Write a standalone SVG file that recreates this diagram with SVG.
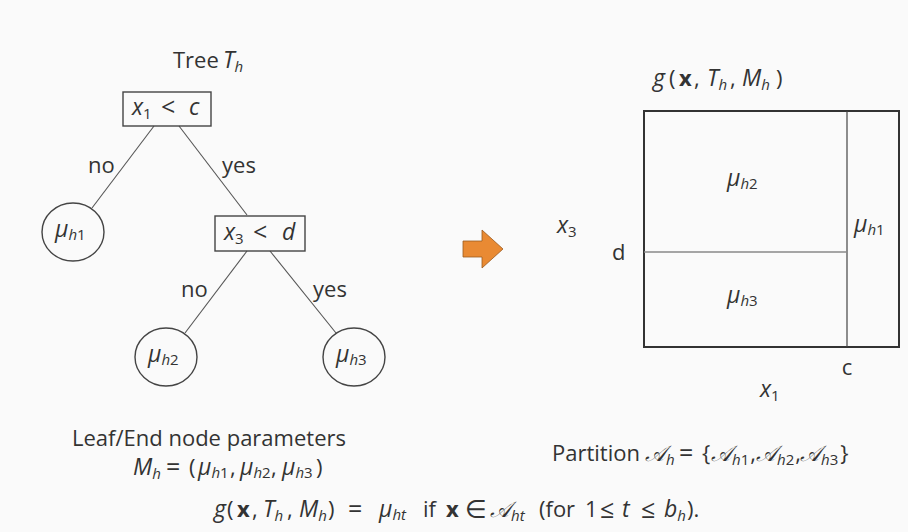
<svg xmlns="http://www.w3.org/2000/svg" width="908" height="532" viewBox="0 0 908 532">
<style>
text{font-family:"Open Sans",Lato,"DejaVu Sans",sans-serif;fill:#333;font-size:22px}
.i{font-style:italic;font-size:23px}
.s{font-size:15px}
.si{font-size:15px;font-style:italic}
.op{font-size:25px}
.c{text-anchor:middle}
.b{font-weight:bold}
.node{fill:none;stroke:#444;stroke-width:1.4}
.edge{stroke:#555;stroke-width:1.1;fill:none}
.cal{font-family:"DejaVu Serif","Liberation Serif",serif;font-style:italic;font-size:22px}
</style>
<rect width="908" height="532" fill="#fafafa"/>
<text y="68"><tspan x="173">Tree</tspan><tspan class="i" x="223">T</tspan><tspan class="si" dy="4">h</tspan></text>
<g id="edges">
<line class="edge" x1="154" y1="126" x2="92" y2="208"/>
<line class="edge" x1="179" y1="126" x2="247" y2="215"/>
<line class="edge" x1="247" y1="251" x2="185" y2="333"/>
<line class="edge" x1="270" y1="251" x2="336" y2="333"/>
<text x="88" y="173">no</text>
<text x="222" y="173">yes</text>
<text x="181" y="297">no</text>
<text x="313" y="297">yes</text>
</g>
<g id="n_root">
<rect class="node" x="123" y="92" width="88" height="34"/>
<text y="115"><tspan class="i" x="132">x</tspan><tspan class="s" dy="4">1</tspan><tspan class="op" x="161" y="116">&lt;</tspan><tspan class="i" x="189" y="115">c</tspan></text>
</g>
<g id="n_split">
<rect class="node" x="215" y="216" width="90" height="35"/>
<text y="240"><tspan class="i" x="224">x</tspan><tspan class="s" dy="4">3</tspan><tspan class="op" x="253" y="241">&lt;</tspan><tspan class="i" x="282" y="240">d</tspan></text>
</g>
<g id="n_mu1">
<ellipse class="node" cx="73" cy="232" rx="31" ry="29"/>
<text y="237"><tspan class="i" x="55">μ</tspan><tspan class="si" dy="3">h</tspan><tspan class="s">1</tspan></text>
</g>
<g id="n_mu2">
<ellipse class="node" cx="166" cy="357" rx="31" ry="29"/>
<text y="362"><tspan class="i" x="148">μ</tspan><tspan class="si" dy="3">h</tspan><tspan class="s">2</tspan></text>
</g>
<g id="n_mu3">
<ellipse class="node" cx="354" cy="357" rx="31" ry="29"/>
<text y="362"><tspan class="i" x="336">μ</tspan><tspan class="si" dy="3">h</tspan><tspan class="s">3</tspan></text>
</g>
<polygon points="463,241 482,241 482,230 503,249 482,268 482,257 463,257" fill="#e98a33" stroke="#9a5a20" stroke-width="0.8"/>
<text y="86"><tspan class="i" x="653">g</tspan><tspan x="669">(</tspan><tspan class="b" x="679">x</tspan><tspan x="694">,</tspan><tspan class="i" x="707">T</tspan><tspan class="si" dy="4">h</tspan><tspan x="730" dy="-4">,</tspan><tspan class="i" x="742">M</tspan><tspan class="si" dy="4">h</tspan><tspan x="776" dy="-4">)</tspan></text>
<g id="partition">
<rect x="644" y="111" width="255" height="236" fill="none" stroke="#333" stroke-width="2"/>
<line x1="847" y1="111" x2="847" y2="347" stroke="#444" stroke-width="1.2"/>
<line x1="644" y1="252" x2="847" y2="252" stroke="#888" stroke-width="1.6"/>
<text y="186"><tspan class="i" x="727">μ</tspan><tspan class="si" dy="3">h</tspan><tspan class="s">2</tspan></text>
<text y="303"><tspan class="i" x="727">μ</tspan><tspan class="si" dy="3">h</tspan><tspan class="s">3</tspan></text>
<text y="232"><tspan class="i" x="854">μ</tspan><tspan class="si" dy="3">h</tspan><tspan class="s">1</tspan></text>
<text y="233"><tspan class="i" x="557">x</tspan><tspan class="s" dy="4">3</tspan></text>
<text x="612" y="260">d</text>
<text class="c" x="847" y="375">c</text>
<text y="397"><tspan class="i" x="760">x</tspan><tspan class="s" dy="4">1</tspan></text>
</g>
<text x="72" y="446">Leaf/End node parameters</text>
<text y="475"><tspan class="i" x="133">M</tspan><tspan class="si" dy="4">h</tspan><tspan class="op" x="166" y="476">=</tspan><tspan x="189" y="475">(</tspan><tspan class="i" x="198">μ</tspan><tspan class="si" dy="3">h</tspan><tspan class="s">1</tspan><tspan x="230" y="475">,</tspan><tspan class="i" x="240">μ</tspan><tspan class="si" dy="3">h</tspan><tspan class="s">2</tspan><tspan x="271" y="475">,</tspan><tspan class="i" x="282">μ</tspan><tspan class="si" dy="3">h</tspan><tspan class="s">3</tspan><tspan x="316" y="475">)</tspan></text>
<text y="461"><tspan x="552">Partition</tspan><tspan class="cal" x="645">𝒜</tspan><tspan class="si" dy="4">h</tspan><tspan class="op" x="679" y="462">=</tspan><tspan x="702" y="461">{</tspan><tspan class="cal" x="711">𝒜</tspan><tspan class="si" dy="4">h</tspan><tspan class="s">1</tspan><tspan dx="1" dy="-4">,</tspan><tspan class="cal" x="756">𝒜</tspan><tspan class="si" dy="4">h</tspan><tspan class="s">2</tspan><tspan dx="1" dy="-4">,</tspan><tspan class="cal" x="800">𝒜</tspan><tspan class="si" dy="4">h</tspan><tspan class="s">3</tspan><tspan dx="2" dy="-4">}</tspan></text>
<text y="517"><tspan class="i" x="214">g</tspan><tspan x="227">(</tspan><tspan class="b" x="237">x</tspan><tspan x="252">,</tspan><tspan class="i" x="263">T</tspan><tspan class="si" dy="4">h</tspan><tspan x="287" y="517">,</tspan><tspan class="i" x="299">M</tspan><tspan class="si" dy="4">h</tspan><tspan x="328" y="517">)</tspan><tspan class="op" x="348" y="518">=</tspan><tspan class="i" x="379" y="517">μ</tspan><tspan class="si" dy="3">ht</tspan><tspan x="423" y="517">if</tspan><tspan class="b" x="446">x</tspan><tspan class="op" x="465" y="518">∈</tspan><tspan class="cal" x="490" y="517">𝒜</tspan><tspan class="si" dy="4">ht</tspan><tspan x="539" y="517">(for</tspan><tspan x="585">1</tspan><tspan class="op" x="600" y="518">≤</tspan><tspan class="i" x="622" y="517">t</tspan><tspan class="op" x="641" y="518">≤</tspan><tspan class="i" x="664" y="517">b</tspan><tspan class="si" dy="4">h</tspan><tspan x="687" y="517">).</tspan></text>
</svg>
